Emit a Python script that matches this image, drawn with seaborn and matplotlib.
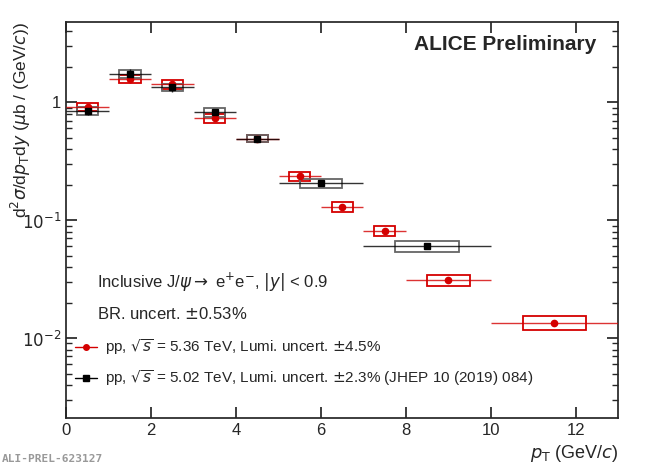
import numpy as np
import matplotlib
matplotlib.use("Agg")
import matplotlib.pyplot as plt
import matplotlib.ticker as mticker
import seaborn as sns

# pp 5.36 TeV
red_lo = [0, 1, 2, 3, 4, 5, 6, 7, 8, 10]
red_hi = [1, 2, 3, 4, 5, 6, 7, 8, 10, 13]
red_x = [0.5, 1.5, 2.5, 3.5, 4.5, 5.5, 6.5, 7.5, 9.0, 11.5]
red_y = [0.91, 1.57, 1.42, 0.73, 0.49, 0.235, 0.13, 0.081, 0.031, 0.0135]
red_stat = [0.06, 0.08, 0.07, 0.05, 0.03, 0.015, 0.01, 0.007, 0.003, 0.002]
red_syst = [0.08, 0.08, 0.08, 0.08, 0.07, 0.08, 0.09, 0.1, 0.11, 0.14]

# pp 5.02 TeV
blk_lo = [0, 1, 2, 3, 4, 5, 7]
blk_hi = [1, 2, 3, 4, 5, 7, 10]
blk_x = [0.5, 1.5, 2.5, 3.5, 4.5, 6.0, 8.5]
blk_y = [0.84, 1.73, 1.34, 0.82, 0.49, 0.205, 0.060]
blk_stat = [0.08, 0.1, 0.08, 0.07, 0.04, 0.02, 0.01]
blk_syst = [0.08, 0.08, 0.07, 0.08, 0.07, 0.08, 0.1]

sns.set_theme(style="ticks")
plt.rcParams["font.family"] = ["Liberation Sans", "DejaVu Sans"]

fig, ax = plt.subplots(figsize=(6.5, 4.66), dpi=100)
fig.subplots_adjust(left=0.102, right=0.951, top=0.953, bottom=0.103)


def draw(lo, hi, x, y, stat, syst, col, box, marker):
    lo, hi, x, y = map(np.array, (lo, hi, x, y))
    stat, syst = np.array(stat), np.array(syst)
    w = (hi - lo) / 2
    ax.bar(x, 2 * syst * y, width=w, bottom=y * (1 - syst), fill=False,
           edgecolor=box, linewidth=1.3, zorder=2)
    ax.errorbar(x, y, xerr=[x - lo, hi - x], yerr=stat * y, fmt="none",
                ecolor=col, elinewidth=1, alpha=0.8, zorder=3)
    ax.plot(x, y, marker, color=col, ms=4.5, zorder=4)


draw(red_lo, red_hi, red_x, red_y, red_stat, red_syst, "#d40000", "#d40000", "o")
draw(blk_lo, blk_hi, blk_x, blk_y, blk_stat, blk_syst, "black", "#666666", "s")

ax.set_yscale("log")
ax.set_xlim(0, 13)
ax.set_ylim(0.0021, 4.8)
ax.yaxis.set_major_formatter(mticker.FixedFormatter(["$10^{-2}$", "$10^{-1}$", "1"]))
ax.yaxis.set_major_locator(mticker.FixedLocator([0.01, 0.1, 1]))
ax.tick_params(which="both", direction="in", top=True, right=True, labelsize=12)
ax.tick_params(which="major", length=8)
ax.set_xlabel(r"$p_{\rm T}$ (GeV/$c$)", fontsize=13, loc="right")
ax.set_ylabel(r"d$^2\sigma$/d$p_{\rm T}$d$y$ ($\mu$b / (GeV/$c$))", fontsize=12.5,
              loc="top")
ax.yaxis.set_label_coords(-0.06, 1.0)

ax.text(0.96, 0.93, "ALICE Preliminary", transform=ax.transAxes, ha="right",
        fontsize=15, fontweight="bold")
ax.text(0.055, 0.33, r"Inclusive J/$\psi\rightarrow$ e$^{+}$e$^{-}$, $|y|$ < 0.9",
        transform=ax.transAxes, fontsize=12)
ax.text(0.055, 0.25, r"BR. uncert. $\pm$0.53%", transform=ax.transAxes, fontsize=12)
ax.plot([0.035], [0.18], "o", color="#d40000", ms=4, transform=ax.transAxes)
ax.plot([0.015, 0.055], [0.18, 0.18], color="#d40000", lw=1, transform=ax.transAxes)
ax.text(0.07, 0.18, r"pp, $\sqrt{s}$ = 5.36 TeV, Lumi. uncert. $\pm$4.5%",
        transform=ax.transAxes, fontsize=11, va="center")
ax.plot([0.035], [0.1], "s", color="black", ms=4, transform=ax.transAxes)
ax.plot([0.015, 0.055], [0.1, 0.1], color="black", lw=1, transform=ax.transAxes)
ax.text(0.07, 0.1, r"pp, $\sqrt{s}$ = 5.02 TeV, Lumi. uncert. $\pm$2.3% (JHEP 10 (2019) 084)",
        transform=ax.transAxes, fontsize=11, va="center")

fig.text(0.003, 0.008, "ALI-PREL-623127", family="DejaVu Sans Mono", fontsize=8,
         color="#999999", fontweight="bold")

fig.savefig("out.png")
